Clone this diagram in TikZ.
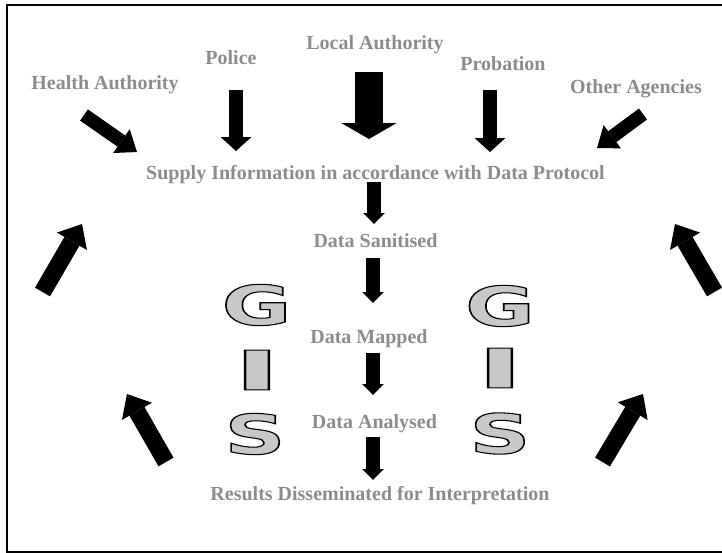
\documentclass[tikz,border=0pt]{standalone}
\usepackage{fontspec}
\setmainfont{Liberation Serif}
\newfontfamily\gisfont{DejaVu Sans}
\usepackage{graphicx}
\usetikzlibrary{arrows.meta}
\definecolor{txtgray}{RGB}{140,140,140}
\definecolor{gisgray}{RGB}{200,200,200}
\tikzset{
  lbl/.style={font=\bfseries\fontsize{15}{18}\selectfont, text=txtgray, inner sep=0pt, anchor=base},
  gis/.style={font=\gisfont\bfseries\fontsize{41}{44}\selectfont, inner sep=0pt},
  barrow/.style n args={3}{draw=black, line width=#1, -{Triangle[width=#2,length=#3,line width=0pt]}},
  toparrow/.style={barrow={10.5pt}{23.25pt}{10.5pt}},
  diagarrow/.style={barrow={10.2pt}{21.75pt}{14.25pt}},
  sidearrow/.style={barrow={13pt}{26pt}{15pt}},
  midarrow/.style={barrow={10pt}{16.25pt}{8.25pt}},
}
\newcommand\gisletter[2][1.55]{\scalebox{#1}[1]{\color{gisgray}\special{pdf:literal direct 0 G 0.8 w 2 Tr}#2\special{pdf:literal direct 0 Tr}}}
\begin{document}
\begin{tikzpicture}[x=0.75pt,y=-0.75pt]
\useasboundingbox (0,0) rectangle (722,553);
\draw[line width=1.1pt] (722,5) -- (7,5) -- (7,552) -- (722,552);

% agency labels
\node[lbl] (health) at (105,89) {Health Authority};
\node[lbl] (police) at (231,64) {Police};
\node[lbl] (local) at (375,50) {Local Authority};
\node[lbl] (probation) at (503,70) {Probation};
\node[lbl] (other) at (636,93) {Other Agencies};

% process labels
\node[lbl] (supply) at (375.5,179) {Supply Information in accordance with Data Protocol};
\node[lbl] (sanitised) at (375.5,247) {Data Sanitised};
\node[lbl] (mapped) at (369,343) {Data Mapped};
\node[lbl] (analysed) at (374.5,428) {Data Analysed};
\node[lbl] (results) at (380,500) {Results Disseminated for Interpretation};

% GIS letters
\node[gis] (gL) at (256.5,305) {\gisletter{G}};
\node[gis] (iL) at (257,370) {\gisletter[2.3]{I}};
\node[gis] (sL) at (255,434) {\gisletter{S}};
\node[gis] (gR) at (500,306) {\gisletter{G}};
\node[gis] (iR) at (500,368) {\gisletter[2.3]{I}};
\node[gis] (sR) at (500,433.5) {\gisletter{S}};

% arrow end points
\coordinate (hA) at (84,115);   \coordinate (hB) at (137,152);
\coordinate (pA) at (236,90);   \coordinate (pB) at (236,151);
\coordinate (lA) at (369,72);   \coordinate (lB) at (369,139);
\coordinate (prA) at (490,90);  \coordinate (prB) at (490,152);
\coordinate (oA) at (643,114);  \coordinate (oB) at (597,148);
\coordinate (ulA) at (42.5,292); \coordinate (ulB) at (82,224);
\coordinate (llA) at (166,462);  \coordinate (llB) at (127,394);
\coordinate (urA) at (714.5,292); \coordinate (urB) at (675,224);
\coordinate (lrA) at (602.5,462); \coordinate (lrB) at (643,394);
\coordinate (m1A) at (374,182); \coordinate (m1B) at (374,224);
\coordinate (m2A) at (373,258); \coordinate (m2B) at (373,303);
\coordinate (m3A) at (373,353); \coordinate (m3B) at (373,395);
\coordinate (m4A) at (373,437); \coordinate (m4B) at (373,480);

\draw[diagarrow] (hA) -- (hB);
\draw[toparrow] (pA) -- (pB);
\draw[barrow={20.7pt}{41.5pt}{12pt}] (lA) -- (lB);
\draw[toparrow] (prA) -- (prB);
\draw[diagarrow] (oA) -- (oB);

\draw[sidearrow] (ulA) -- (ulB);
\draw[sidearrow] (llA) -- (llB);
\draw[sidearrow] (urA) -- (urB);
\draw[sidearrow] (lrA) -- (lrB);

\draw[midarrow] (m1A) -- (m1B);
\draw[midarrow] (m2A) -- (m2B);
\draw[midarrow] (m3A) -- (m3B);
\draw[midarrow] (m4A) -- (m4B);
\end{tikzpicture}
\end{document}
